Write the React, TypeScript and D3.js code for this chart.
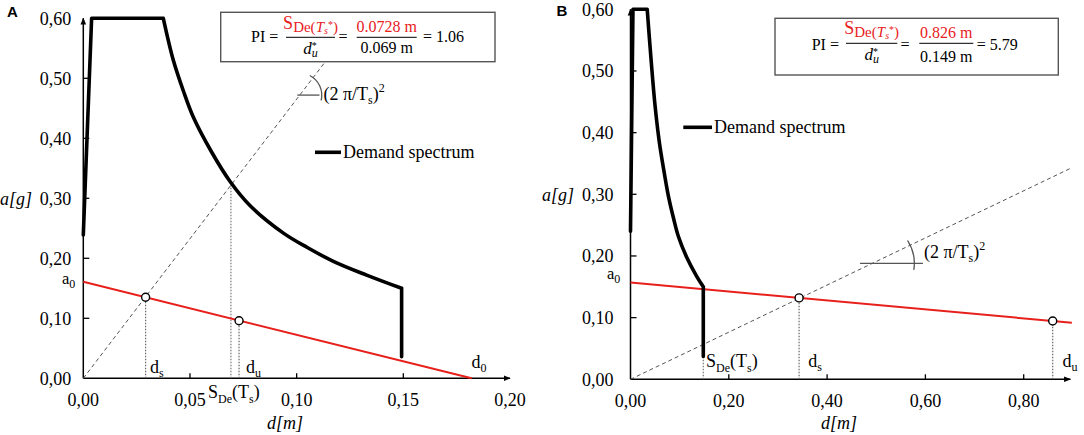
import React from 'react';
import * as d3 from 'd3';

// ---------- shared axis data ----------
const yTicks = [0, 0.1, 0.2, 0.3, 0.4, 0.5, 0.6];
const yTickLabels = ['0,00', '0,10', '0,20', '0,30', '0,40', '0,50', '0,60'];

// ---------- panel A data ----------
const xTicksA = [0, 0.05, 0.1, 0.15, 0.2];
const xTickLabelsA = ['0,00', '0,05', '0,10', '0,15', '0,20'];
const demandDA = [0, 0.0039, 0.0375, 0.0422, 0.047, 0.0516, 0.06, 0.0688, 0.0781, 0.0938, 0.105, 0.1172, 0.1328, 0.1492, 0.1492];
const demandAA = [0.239, 0.6, 0.6, 0.53, 0.478, 0.435, 0.378, 0.328, 0.288, 0.242, 0.218, 0.195, 0.172, 0.15, 0.036];
const capacityDA = [0, 0.182];
const capacityAA = [0.161, 0];
const periodDA = [0, 0.1135];
const periodAA = [0, 0.528];
const pointDA = [0.0292, 0.073];
const pointAA = [0.135, 0.096];
const sdeA = [0.0692, 0.325];
const angleLineA = [0.1003, 0.1107, 0.472];
const boxA = { num: '0.0728 m', den: '0.069 m', result: '= 1.06' };

// ---------- panel B data ----------
const xTicksB = [0, 0.2, 0.4, 0.6, 0.8];
const xTickLabelsB = ['0,00', '0,20', '0,40', '0,60', '0,80'];
const demandDB = [0, 0.005, 0.034, 0.0417, 0.0498, 0.0586, 0.068, 0.0769, 0.0873, 0.0973, 0.1143, 0.1347, 0.1481, 0.1481];
const demandAB = [0.24, 0.6, 0.6, 0.52, 0.445, 0.385, 0.338, 0.298, 0.262, 0.232, 0.198, 0.167, 0.15, 0.037];
const capacityDB = [0, 0.898];
const capacityAB = [0.157, 0.0917];
const periodDB = [0, 0.895];
const periodAB = [0, 0.342];
const pointDB = [0.343, 0.859];
const pointAB = [0.132, 0.0945];
const sdeB = [0.1481, 0.037];
const angleLineB = [0.467, 0.595, 0.188];
const boxB = { num: '0.826 m', den: '0.149 m', result: '= 5.79' };

const RED = '#e8201c';

type Cfg = {
  letter: string; letterX: number; letterY: number;
  x: d3.ScaleLinear<number, number>; y: d3.ScaleLinear<number, number>;
  xEnd: number; xTicks: number[]; xTickLabels: string[];
  demD: number[]; demA: number[]; capD: number[]; capA: number[];
  perD: number[]; perA: number[]; ptD: number[]; ptA: number[];
  sde: number[]; angle: number[]; arcR: number; arcA0: number; arcA1: number;
  yLabelGap: number; aLabelEnd: number; dLabelX: number;
  a0: [number, number]; ds: [number, number]; du: [number, number]; d0?: [number, number];
  sdeLbl: [number, number]; angTxt: [number, number];
  legend: [number, number, number];
  box: { x0: number; x1: number; y0: number; y1: number; piX: number; piY: number; fy: number;
    f1: [number, number]; f2: [number, number]; eqX: number; resX: number; numY: number; num2Y: number; denY: number; den2Y: number };
  texts: { num: string; den: string; result: string };
};

const Panel: React.FC<{ c: Cfg; id: string }> = ({ c, id }) => {
  const { x, y } = c;
  const zip = (a: number[], b: number[]) => a.map((v, i) => [v, b[i]] as [number, number]);
  const line = d3.line<[number, number]>().x(p => x(p[0])).y(p => y(p[1]));
  const smooth = d3.line<[number, number]>().x(p => x(p[0])).y(p => y(p[1])).curve(d3.curveCatmullRom.alpha(0.5));
  const dem = zip(c.demD, c.demA);
  const n = dem.length;
  const demPath = (line(dem.slice(0, 3)) || '') + (smooth(dem.slice(2, n - 1)) || '') + (line(dem.slice(n - 2)) || '');
  const x0 = x(0), y0 = y(0);
  const slope = c.perA[1] / c.perD[1];
  const intD = c.angle[2] / slope;
  const cx = x(intD), cy = y(c.angle[2]);
  const arcPath = d3.path();
  arcPath.arc(cx, cy, c.arcR, -c.arcA0 * Math.PI / 180, -c.arcA1 * Math.PI / 180, false);
  const b = c.box;
  return (
    <g>
      <text className="sans" x={c.letterX} y={c.letterY} fontWeight="bold" fontSize={15}>{c.letter}</text>
      {/* axes */}
      <line x1={x0} y1={y0} x2={x0} y2={y(0.6)} stroke="#000" strokeWidth={1.5} markerEnd={`url(#arr${id})`} />
      <line x1={x0} y1={y0} x2={x(c.xEnd)} y2={y0} stroke="#000" strokeWidth={1.5} markerEnd={`url(#arr${id})`} />
      {yTicks.map((v, i) => (
        <g key={'y' + i}>
          {v > 0 && v < 0.6 && <line x1={x0} x2={x0 + 6} y1={y(v)} y2={y(v)} stroke="#000" strokeWidth={1.3} />}
          <text x={x0 - c.yLabelGap} y={y(v) + 6.5} fontSize={18} textAnchor="end">{yTickLabels[i]}</text>
        </g>
      ))}
      {c.xTicks.map((v, i) => (
        <g key={'x' + i}>
          {v > 0 && v < c.xEnd - 1e-6 && <line x1={x(v)} x2={x(v)} y1={y0} y2={y0 - 5} stroke="#000" strokeWidth={1.3} />}
          <text x={x(v)} y={y0 + 27.7} fontSize={18} textAnchor="middle">{c.xTickLabels[i]}</text>
        </g>
      ))}
      <text x={c.aLabelEnd} y={y(0.3) + 6.5} fontSize={18} fontStyle="italic" textAnchor="end">a[g]</text>
      <text x={c.dLabelX} y={428.5} fontSize={18} fontStyle="italic" textAnchor="middle">d[m]</text>

      {/* period line */}
      <path d={line(zip(c.perD, c.perA)) || ''} fill="none" stroke="#555" strokeWidth={1} strokeDasharray="4 3" />
      {/* angle marker */}
      <line x1={x(c.angle[0])} x2={x(c.angle[1])} y1={cy} y2={cy} stroke="#555" strokeWidth={1.3} />
      <path d={arcPath.toString()} fill="none" stroke="#555" strokeWidth={1.3} />
      <text x={c.angTxt[0]} y={c.angTxt[1]} fontSize={18}>(2 π/T<tspan fontSize={12} dy={4}>s</tspan><tspan dy={-4}>)</tspan><tspan fontSize={12} dy={-8}>2</tspan></text>

      {/* dotted verticals */}
      {c.ptD.map((d, i) => (
        <line key={'v' + i} x1={x(d)} x2={x(d)} y1={y0} y2={y(c.ptA[i])} stroke="#666" strokeWidth={1.2} strokeDasharray="1.5 1.5" />
      ))}
      <line x1={x(c.sde[0])} x2={x(c.sde[0])} y1={y0} y2={y(c.sde[1])} stroke="#777" strokeWidth={1.2} strokeDasharray="1.5 1.5" />

      {/* capacity line */}
      <path d={line(zip(c.capD, c.capA)) || ''} fill="none" stroke={RED} strokeWidth={2} />
      {/* demand spectrum */}
      <path d={demPath} fill="none" stroke="#000" strokeWidth={3.6} strokeLinejoin="round" strokeLinecap="round" />
      {c.ptD.map((d, i) => (
        <circle key={'c' + i} cx={x(d)} cy={y(c.ptA[i])} r={4} fill="#fff" stroke="#000" strokeWidth={1.4} />
      ))}

      {/* labels */}
      <text x={c.a0[0]} y={c.a0[1]} fontSize={16.5}>a<tspan fontSize={12} dy={4}>0</tspan></text>
      <text x={c.ds[0]} y={c.ds[1]} fontSize={18}>d<tspan fontSize={12} dy={4}>s</tspan></text>
      <text x={c.du[0]} y={c.du[1]} fontSize={18}>d<tspan fontSize={12} dy={4}>u</tspan></text>
      {c.d0 && <text x={c.d0[0]} y={c.d0[1]} fontSize={18}>d<tspan fontSize={12} dy={4}>0</tspan></text>}
      <text x={c.sdeLbl[0]} y={c.sdeLbl[1]} fontSize={18}>S<tspan fontSize={12} dy={5}>De</tspan><tspan dy={-5}>(T</tspan><tspan fontSize={12} dy={5}>s</tspan><tspan dy={-5}>)</tspan></text>

      {/* legend */}
      <line x1={c.legend[0]} x2={c.legend[1]} y1={c.legend[2]} y2={c.legend[2]} stroke="#000" strokeWidth={3.6} />
      <text x={c.legend[1] + 2} y={c.legend[2] + 6} fontSize={18}>Demand spectrum</text>

      {/* PI box */}
      <rect x={b.x0} y={b.y0} width={b.x1 - b.x0} height={b.y1 - b.y0} fill="#fff" stroke="#555" strokeWidth={1.4} />
      <text x={b.piX} y={b.piY} fontSize={16}>PI =</text>
      <line x1={b.f1[0]} x2={b.f1[1]} y1={b.fy} y2={b.fy} stroke="#000" strokeWidth={1} />
      <text x={(b.f1[0] + b.f1[1]) / 2} y={b.numY - 4} fontSize={18} fill={RED} textAnchor="middle">S<tspan fontSize={15} dy={3}>De(</tspan><tspan fontSize={15} fontStyle="italic">T</tspan><tspan fontSize={10} fontStyle="italic" dy={2}>s</tspan><tspan fontSize={10} dy={-6}>*</tspan><tspan fontSize={15} dy={4}>)</tspan></text>
      <text x={(b.f1[0] + b.f1[1]) / 2} y={b.denY} fontSize={17} textAnchor="middle"><tspan fontStyle="italic">d</tspan><tspan fontSize={12} fontStyle="italic" dy={3}>u</tspan><tspan fontSize={10} dx={-6} dy={-8}>*</tspan></text>
      <text x={b.eqX} y={b.piY} fontSize={16}>=</text>
      <line x1={b.f2[0]} x2={b.f2[1]} y1={b.fy} y2={b.fy} stroke="#000" strokeWidth={1} />
      <text x={(b.f2[0] + b.f2[1]) / 2} y={b.num2Y} fontSize={16} fill={RED} textAnchor="middle">{c.texts.num}</text>
      <text x={(b.f2[0] + b.f2[1]) / 2} y={b.den2Y} fontSize={16} textAnchor="middle">{c.texts.den}</text>
      <text x={b.resX} y={b.piY} fontSize={16}>{c.texts.result}</text>
    </g>
  );
};

export default function App() {
  const xA = d3.scaleLinear().domain([0, 0.2]).range([83.3, 510]);
  const yA = d3.scaleLinear().domain([0, 0.6]).range([378.3, 18.3]);
  const xB = d3.scaleLinear().domain([0, 0.8]).range([630.5, 1023.7]);
  const yB = d3.scaleLinear().domain([0, 0.6]).range([379.3, 9.3]);

  const cfgA: Cfg = {
    letter: 'A', letterX: 7, letterY: 17, x: xA, y: yA, xEnd: 0.2,
    xTicks: xTicksA, xTickLabels: xTickLabelsA,
    demD: demandDA, demA: demandAA, capD: capacityDA, capA: capacityAA,
    perD: periodDA, perA: periodAA, ptD: pointDA, ptA: pointAA, sde: sdeA,
    angle: angleLineA, arcR: 22, arcA0: 63, arcA1: -14,
    yLabelGap: 12, aLabelEnd: 32, dLabelX: 285,
    a0: [62, 284], ds: [150, 373], du: [246, 373], d0: [471.5, 368],
    sdeLbl: [208, 398], angTxt: [323.5, 100], legend: [315, 341, 152.3],
    box: { x0: 220.7, x1: 495, y0: 12.3, y1: 61.7, piX: 251, piY: 42, fy: 37.3,
      f1: [286, 335], f2: [356.7, 416.7], eqX: 338.5, resX: 423, numY: 33, num2Y: 31.7, denY: 53.5, den2Y: 53 },
    texts: boxA,
  };
  const cfgB: Cfg = {
    letter: 'B', letterX: 556.5, letterY: 15.5, x: xB, y: yB, xEnd: 0.895,
    xTicks: xTicksB, xTickLabels: xTickLabelsB,
    demD: demandDB, demA: demandAB, capD: capacityDB, capA: capacityAB,
    perD: periodDB, perA: periodAB, ptD: pointDB, ptA: pointAB, sde: sdeB,
    angle: angleLineB, arcR: 42, arcA0: 33, arcA1: -9,
    yLabelGap: 17, aLabelEnd: 574, dLabelX: 839,
    a0: [607, 278.5], ds: [808.3, 366.5], du: [1062.5, 366.5],
    sdeLbl: [706, 366.5], angTxt: [924, 258], legend: [683.3, 712, 127.3],
    box: { x0: 775, x1: 1058.3, y0: 18.3, y1: 75, piX: 811.7, piY: 50, fy: 43.3,
      f1: [846, 897.3], f2: [919.3, 973.3], eqX: 900.5, resX: 976.7, numY: 38, num2Y: 38.3, denY: 60, den2Y: 61.7 },
    texts: boxB,
  };

  return (
    <div style={{ position: 'absolute', left: 0, top: 0 }}>
      <svg width={1084} height={435} style={{ display: 'block', background: '#fff' }}>
        <style>{`
          text { font-family: 'Liberation Serif', 'Times New Roman', 'DejaVu Serif', serif; }
          text.sans { font-family: 'Liberation Sans', Arial, sans-serif; }
        `}</style>
        <defs>
          {['A', 'B'].map(id => (
            <marker key={id} id={'arr' + id} viewBox="0 0 10 10" refX={9} refY={5} markerWidth={7} markerHeight={7} markerUnits="userSpaceOnUse" orient="auto">
              <path d="M0,1 L10,5 L0,9 Z" fill="#000" />
            </marker>
          ))}
        </defs>
        <Panel c={cfgA} id="A" />
        <Panel c={cfgB} id="B" />
      </svg>
    </div>
  );
}
